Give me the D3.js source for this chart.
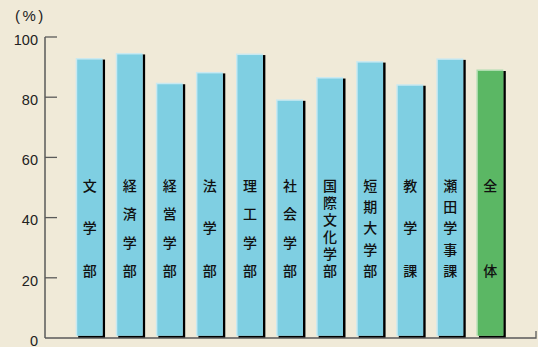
<!DOCTYPE html>
<html>
<head>
<meta charset="utf-8">
<script src="https://cdn.jsdelivr.net/npm/d3@7"></script>
<style>
  html, body { margin: 0; padding: 0; background: #f0ead8; }
  svg { display: block; }
</style>
</head>
<body>
<svg width="538" height="347"></svg>
<script>
// data
var categories = ["文学部", "経済学部", "経営学部", "法学部", "理工学部", "社会学部",
  "国際文化学部", "短期大学部", "教学課", "瀬田学事課", "全体"];
var values = [93, 94.7, 84.8, 88.4, 94.5, 79.3, 86.7, 92, 84.3, 92.9, 89.2];
var yTicks = [0, 20, 40, 60, 80, 100];
var totalIndex = 10; // 全体 drawn in green

var svg = d3.select("svg"),
    width = +svg.attr("width"),
    height = +svg.attr("height");

var y = d3.scaleLinear().domain([0, 100]).range([338, 37]);

var x = d3.scaleBand()
  .domain(categories)
  .range([75.7, 503.3])
  .paddingInner(0.33)
  .paddingOuter(0);

// y axis line + ticks
svg.append("line")
  .attr("x1", 45).attr("x2", 45)
  .attr("y1", y(100)).attr("y2", y(0))
  .attr("stroke", "#5a5a5a").attr("stroke-width", 1.5);

svg.selectAll(".tick")
  .data(yTicks.filter(function(d) { return d > 0; }))
  .enter().append("line")
  .attr("x1", 45).attr("x2", 57)
  .attr("y1", function(d) { return y(d); })
  .attr("y2", function(d) { return y(d); })
  .attr("stroke", "#5a5a5a").attr("stroke-width", 1.3);

svg.selectAll(".ylab")
  .data(yTicks)
  .enter().append("text")
  .attr("x", 38)
  .attr("y", function(d) { return y(d) + 4; })
  .attr("text-anchor", "end")
  .attr("dominant-baseline", "middle")
  .attr("font-family", "Liberation Sans, Arial, sans-serif")
  .attr("font-size", 14.5)
  .attr("fill", "#222")
  .text(function(d) { return d; });

// unit label
svg.append("text")
  .attr("x", 15).attr("y", 17)
  .attr("dominant-baseline", "middle")
  .attr("font-family", "Liberation Sans, Arial, sans-serif")
  .attr("font-size", 15)
  .attr("letter-spacing", 2.5)
  .attr("fill", "#222")
  .text("(%)");

// bars
var bw = x.bandwidth();
var bars = svg.selectAll(".bar")
  .data(categories)
  .enter().append("g")
  .attr("class", "bar");

// black shadow, right and bottom
bars.append("rect")
  .attr("x", function(d) { return x(d) + 2.5; })
  .attr("y", function(d, i) { return y(values[i]) + 1.5; })
  .attr("width", bw)
  .attr("height", function(d, i) { return y(0) - y(values[i]) - 1.5; })
  .attr("fill", "#000");

// light edge
bars.append("rect")
  .attr("x", function(d) { return x(d); })
  .attr("y", function(d, i) { return y(values[i]); })
  .attr("width", bw)
  .attr("height", function(d, i) { return y(0) - y(values[i]) - 2.3; })
  .attr("fill", function(d, i) { return i == totalIndex ? "#aedcae" : "#c9e9f1"; });

// main fill
bars.append("rect")
  .attr("x", function(d) { return x(d) + 1.5; })
  .attr("y", function(d, i) { return y(values[i]) + 1.5; })
  .attr("width", bw - 1.5)
  .attr("height", function(d, i) { return y(0) - y(values[i]) - 3.8; })
  .attr("fill", function(d, i) { return i == totalIndex ? "#5bb764" : "#7fcfe2"; });

// vertical labels, one character per line
bars.each(function(d) {
  var chars = d.split("");
  var cy = d3.scalePoint().domain(d3.range(chars.length)).range([184.5, 270]);
  d3.select(this).selectAll("text")
    .data(chars)
    .enter().append("text")
    .attr("x", x(d) + bw / 2 + 0.5)
    .attr("y", function(c, j) { return cy(j); })
    .attr("text-anchor", "middle")
    .attr("dominant-baseline", "central")
    .attr("font-family", "Noto Sans CJK JP, sans-serif")
    .attr("font-weight", 500)
    .attr("font-size", 14)
    .attr("fill", "#111")
    .text(function(c) { return c; });
});

// baseline
svg.append("path")
  .attr("d", "M45," + y(0) + "H536V331")
  .attr("fill", "none")
  .attr("stroke", "#5a5a5a")
  .attr("stroke-width", 1.3);
</script>
</body>
</html>
